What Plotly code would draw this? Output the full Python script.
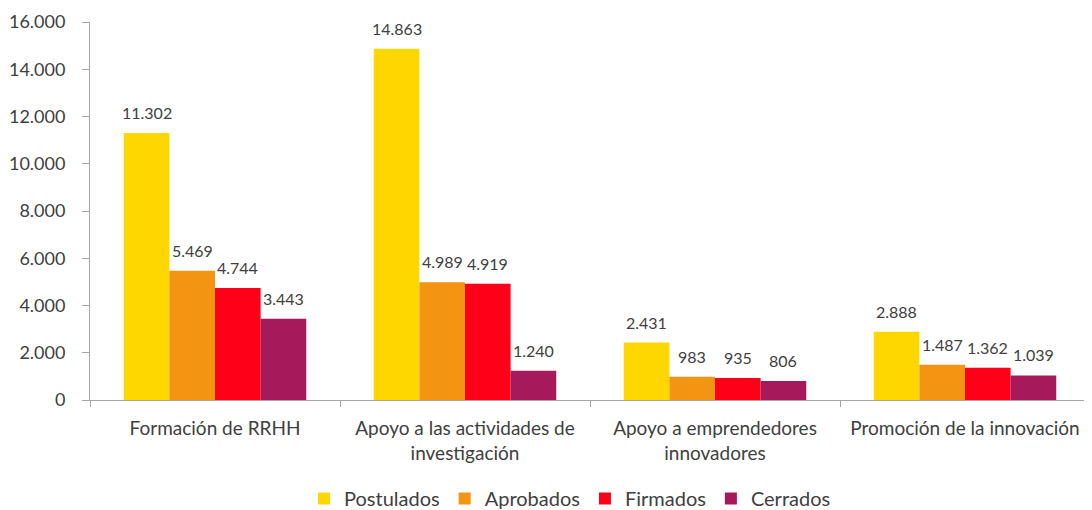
import plotly.graph_objects as go

categories = [
    "Formación de RRHH",
    "Apoyo a las actividades de<br>investigación",
    "Apoyo a emprendedores<br>innovadores",
    "Promoción de la innovación",
]
postulados = [11302, 14863, 2431, 2888]
aprobados = [5469, 4989, 983, 1487]
firmados = [4744, 4919, 935, 1362]
cerrados = [3443, 1240, 806, 1039]

series = [
    ("Postulados", postulados, "#FFD700"),
    ("Aprobados", aprobados, "#F39512"),
    ("Firmados", firmados, "#FF0019"),
    ("Cerrados", cerrados, "#A6195A"),
]

FONT = "Lato, Open Sans, sans-serif"
TXT = "#404040"
AXIS = "#A6A6A6"

# group layout: 4 bars filling 73% of each category slot
bar_w = 0.73 / len(series)
start = -0.73 / 2

fig = go.Figure()
for i, (name, vals, color) in enumerate(series):
    off = start + i * bar_w
    fig.add_trace(go.Bar(
        x=categories, y=vals, name=name,
        width=bar_w, offset=off,
        marker={"color": color, "line": {"width": 0}},
    ))
    # value labels sit a bit above each bar, like the original
    for j, v in enumerate(vals):
        fig.add_annotation(
            x=j + off + bar_w / 2, y=v, xref="x", yref="y",
            text=f"{v:,}".replace(",", "."),
            showarrow=False, yanchor="bottom", yshift=9,
            font={"size": 16, "color": TXT, "family": FONT},
        )

fig.update_layout(
    template="none",
    barmode="overlay",
    separators=",.",
    width=1092, height=510,
    margin={"l": 82, "r": 10, "t": 14, "b": 118},
    plot_bgcolor="white",
    paper_bgcolor="white",
    font={"family": FONT, "color": TXT, "size": 18},
    showlegend=True,
    legend={
        "orientation": "h", "x": 0.48, "xanchor": "center",
        "yref": "container", "y": 0.0, "yanchor": "bottom",
        "font": {"size": 20, "color": TXT},
        "itemwidth": 30, "tracegroupgap": 0,
    },
    xaxis={
        "showgrid": False, "showline": True, "linecolor": AXIS,
        "ticks": "outside", "tickson": "boundaries", "ticklen": 6,
        "tickcolor": AXIS, "automargin": False,
        "ticklabelstandoff": 11,
        "tickfont": {"size": 19, "color": TXT},
    },
    yaxis={
        "range": [0, 16000], "dtick": 2000, "tickformat": ",d",
        "showgrid": False, "showline": True, "linecolor": AXIS,
        "ticks": "outside", "ticklen": 7, "tickcolor": AXIS,
        "ticklabelstandoff": 13,
        "zeroline": False, "automargin": False,
        "tickfont": {"size": 18, "color": TXT},
    },
)

fig.write_html("out.html")
